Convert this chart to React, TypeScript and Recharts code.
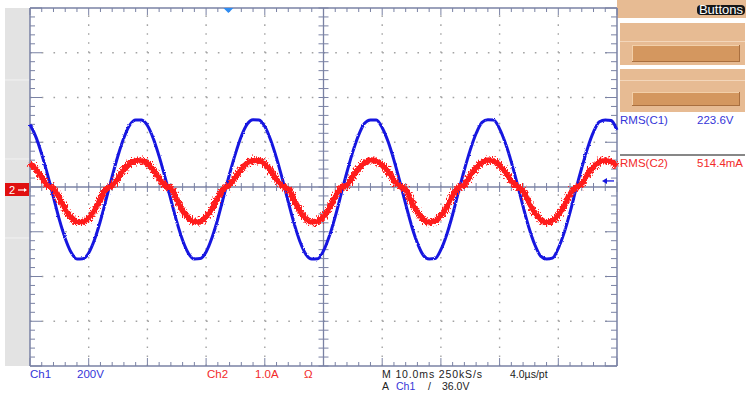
import React from "react";
import { LineChart, Line, XAxis, YAxis, ReferenceLine, ReferenceDot } from "recharts";

// Time base: 10 ms/div over 10 divisions, one sample per millisecond
const TIME_MS = [
  0, 1, 2, 3, 4, 5, 6, 7, 8, 9,
  10, 11, 12, 13, 14, 15, 16, 17, 18, 19,
  20, 21, 22, 23, 24, 25, 26, 27, 28, 29,
  30, 31, 32, 33, 34, 35, 36, 37, 38, 39,
  40, 41, 42, 43, 44, 45, 46, 47, 48, 49,
  50, 51, 52, 53, 54, 55, 56, 57, 58, 59,
  60, 61, 62, 63, 64, 65, 66, 67, 68, 69,
  70, 71, 72, 73, 74, 75, 76, 77, 78, 79,
  80, 81, 82, 83, 84, 85, 86, 87, 88, 89,
  90, 91, 92, 93, 94, 95, 96, 97, 98, 99,
  100,
];

// Ch1: mains voltage (V), 200 V/div
const CH1_VOLTS = [
  279, 224, 146, 54, -46, -146, -230, -292, -322, -321,
  -295, -235, -151, -52, 48, 141, 220, 277, 300, 299,
  275, 217, 137, 44, -56, -155, -238, -297, -322, -320,
  -290, -227, -142, -42, 58, 149, 227, 281, 301, 299,
  270, 210, 129, 35, -67, -164, -245, -301, -322, -321,
  -285, -219, -132, -32, 67, 158, 233, 285, 300, 300,
  265, 203, 120, 25, -77, -173, -251, -305, -322, -320,
  -280, -212, -123, -21, 77, 166, 239, 289, 301, 299,
  260, 195, 111, 15, -87, -182, -258, -309, -322, -318,
  -274, -204, -113, -11, 86, 175, 246, 292, 300, 297,
  255,
];

// Ch2: load current (A), 1.0 A/div
const CH2_AMPS = [
  0.53, 0.4, 0.21, 0.03, -0.03, -0.25, -0.5, -0.68, -0.78, -0.78,
  -0.69, -0.51, -0.27, -0.03, 0.03, 0.2, 0.39, 0.52, 0.59, 0.59,
  0.52, 0.38, 0.19, 0.03, -0.03, -0.28, -0.52, -0.69, -0.78, -0.77,
  -0.67, -0.49, -0.24, -0.03, 0.04, 0.22, 0.4, 0.53, 0.6, 0.59,
  0.51, 0.36, 0.17, 0.02, -0.04, -0.3, -0.54, -0.71, -0.79, -0.77,
  -0.66, -0.47, -0.21, -0.02, 0.04, 0.24, 0.42, 0.54, 0.6, 0.58,
  0.49, 0.35, 0.15, 0.02, -0.05, -0.33, -0.56, -0.72, -0.79, -0.76,
  -0.64, -0.45, -0.19, -0.01, 0.05, 0.26, 0.43, 0.55, 0.6, 0.58,
  0.48, 0.33, 0.13, 0.01, -0.08, -0.36, -0.58, -0.73, -0.79, -0.75,
  -0.63, -0.42, -0.16, -0.01, 0.07, 0.28, 0.45, 0.56, 0.6, 0.57,
  0.47,
];

// Trigger settings: Ch1 rising edge at 36.0 V
const TRIGGER_MS = 33.8;
const TRIGGER_LEVEL_V = 36;

// Readouts
const CH1_LABEL = ["Ch1", "200V"];
const CH2_LABEL = ["Ch2", "1.0A", "Ω"];
const TIMEBASE_LABEL = ["M 10.0ms 250kS/s", "4.0µs/pt"];
const TRIGGER_LABEL = ["A", "Ch1", "/", "36.0V"];
const MEASUREMENTS = [
  { name: "RMS(C1)", value: "223.6V" },
  { name: "RMS(C2)", value: "514.4mA" },
];

const data = TIME_MS.map((t, i) => ({ t, v: CH1_VOLTS[i], a: CH2_AMPS[i] }));

const W = 752;
const H = 394;
const PLOT = { left: 30, top: 8, right: 617, bottom: 366 };
const PX_PER_MS = (PLOT.right - PLOT.left) / 100;
const PX_PER_DIV = (PLOT.bottom - PLOT.top) / 8;
const msFromPx = (px: number) => px / PX_PER_MS;
const divFromPx = (px: number) => px / PX_PER_DIV;

const BLUE = "#1616e0";
const RED = "#ff1c1c";
const AXIS = "#7a82a4";
const DOTS = "#a3a3a3";
const TXT_BLUE = "#3535d8";
const TXT_RED = "#f22a2a";
const FONT = "'Liberation Sans', Arial, sans-serif";

const PANEL = "#e7bb93";
const PANEL_LIGHT = "#f3d6ba";
const BUTTON = "#d4975f";
const BUTTON_HI = "#f2cfa8";
const BUTTON_SH = "#a96f3f";

type Pt = { x: number; y: number };
type Seg = { key: string; seg: [Pt, Pt]; w: number };

// Graticule frame ticks and center-axis ticks, in data units (ms, div)
function buildTicks(): Seg[] {
  const out: Seg[] = [];
  for (let i = 0; i <= 50; i++) {
    const x = i * 2;
    const major = x % 10 === 0;
    const top = divFromPx(major ? 7 : 4);
    const bot = divFromPx(major ? 8 : 4);
    const mid = divFromPx(major ? 5 : 4);
    out.push({ key: `t${i}`, seg: [{ x, y: 4 }, { x, y: 4 - top }], w: 1 });
    out.push({ key: `b${i}`, seg: [{ x, y: -4 }, { x, y: -4 + bot }], w: 1 });
    out.push({ key: `c${i}`, seg: [{ x, y: -mid }, { x, y: mid }], w: 1 });
  }
  for (let j = 0; j <= 40; j++) {
    const y = (j - 20) / 5;
    const major = j % 5 === 0;
    const l = msFromPx(major ? 12 : 5);
    const r = msFromPx(major ? 12 : 6);
    const m = msFromPx(5);
    out.push({ key: `l${j}`, seg: [{ x: 0, y }, { x: l, y }], w: 1 });
    out.push({ key: `r${j}`, seg: [{ x: 100, y }, { x: 100 - r, y }], w: 1 });
    out.push({ key: `m${j}`, seg: [{ x: 50 - m, y }, { x: 50 + m, y }], w: 1 });
  }
  return out;
}

const TICKS = buildTicks();
const GRID_X = [10, 20, 30, 40, 60, 70, 80, 90];
const GRID_Y = [-3, -2, -1, 1, 2, 3];

const hDash = `1.6 ${(PX_PER_MS * 2 - 1.6).toFixed(2)}`;
const vDash = `1.6 ${(PX_PER_DIV / 5 - 1.6).toFixed(2)}`;

function Ch2GroundMarker(p: any) {
  const { cx, cy } = p;
  return (
    <g>
      <rect x={cx - 25} y={cy - 4} width={24} height={13} fill="#e01010" />
      <text x={cx - 18} y={cy + 7} fill="#fff" fontSize={11} fontFamily={FONT} textAnchor="middle">
        2
      </text>
      <line x1={cx - 12} y1={cy + 3} x2={cx - 5} y2={cy + 3} stroke="#fff" strokeWidth={1.2} />
      <path d={`M${cx - 6},${cy + 1} L${cx - 3},${cy + 3} L${cx - 6},${cy + 5} Z`} fill="#fff" />
    </g>
  );
}

function TriggerPosMarker(p: any) {
  const { cx, cy } = p;
  return <path d={`M${cx - 5},${cy} L${cx + 5},${cy} L${cx},${cy + 5} Z`} fill="#2f8cf2" />;
}

function TriggerLevelMarker(p: any) {
  const { cx, cy } = p;
  return (
    <g>
      <line x1={cx - 13} y1={cy + 2} x2={cx - 3} y2={cy + 2} stroke={BLUE} strokeWidth={1.3} />
      <path d={`M${cx - 15},${cy + 2} L${cx - 10},${cy - 1} L${cx - 10},${cy + 5} Z`} fill={BLUE} />
    </g>
  );
}

function Background() {
  const txt = { fontFamily: FONT, fontSize: 11.5 };
  const low = { fontFamily: FONT, fontSize: 10.5 };
  return (
    <svg width={W} height={H} style={{ position: "absolute", left: 0, top: 0 }}>
      <defs>
        <filter id="ch2-noise" x="-2%" y="-40%" width="104%" height="180%">
          <feTurbulence type="fractalNoise" baseFrequency="0.8 0.5" numOctaves={2} seed={4} result="n" />
          <feDisplacementMap in="SourceGraphic" in2="n" scale={10} xChannelSelector="R" yChannelSelector="G" />
        </filter>
        <filter id="ch1-noise" x="-2%" y="-20%" width="104%" height="140%">
          <feTurbulence type="fractalNoise" baseFrequency="0.9" numOctaves={1} seed={7} result="n" />
          <feDisplacementMap in="SourceGraphic" in2="n" scale={2.5} xChannelSelector="R" yChannelSelector="G" />
        </filter>
        <clipPath id="pill-clip">
          <rect x={697} y={5} width={48} height={10} rx={4} />
        </clipPath>
      </defs>
      <rect x={0} y={0} width={W} height={H} fill="#ffffff" />

      {/* channel marker strip */}
      <rect x={5} y={PLOT.top} width={PLOT.left - 5} height={PLOT.bottom - PLOT.top} fill="#e3e3e3" />
      {[80, 159, 238].map((y) => (
        <line key={y} x1={5} x2={PLOT.left} y1={y} y2={y} stroke="#f2f2f2" strokeWidth={1} />
      ))}

      {/* soft buttons */}
      <rect x={617} y={0} width={129} height={18} fill={PANEL} />
      <rect x={697} y={5} width={48} height={10} rx={4} fill="#161616" />
      <text x={721} y={13.5} fill="#fff" fontSize={13} fontFamily={FONT} textAnchor="middle" clipPath="url(#pill-clip)">
        Buttons
      </text>
      {[
        { y: 23, h: 42, line: 41.5, by: 45, bh: 17 },
        { y: 69, h: 43, line: 80.5, by: 92, bh: 14 },
      ].map((b) => (
        <g key={b.y}>
          <rect x={620} y={b.y} width={125} height={b.h} fill={PANEL} />
          <line x1={620} x2={745} y1={b.line} y2={b.line} stroke={PANEL_LIGHT} strokeWidth={1} />
          <rect x={632} y={b.by} width={108} height={b.bh} fill={BUTTON} />
          <line x1={632} x2={740} y1={b.by + 0.5} y2={b.by + 0.5} stroke={BUTTON_HI} strokeWidth={1} />
          <line x1={632.5} x2={632.5} y1={b.by} y2={b.by + b.bh} stroke={BUTTON_HI} strokeWidth={1} />
          <line x1={632} x2={740} y1={b.by + b.bh - 0.5} y2={b.by + b.bh - 0.5} stroke={BUTTON_SH} strokeWidth={1} />
          <line x1={739.5} x2={739.5} y1={b.by} y2={b.by + b.bh} stroke={BUTTON_SH} strokeWidth={1} />
        </g>
      ))}

      {/* measurements */}
      <text x={620} y={124} fill={TXT_BLUE} {...txt}>{MEASUREMENTS[0].name}</text>
      <text x={697} y={124} fill={TXT_BLUE} {...txt}>{MEASUREMENTS[0].value}</text>
      <line x1={620} x2={745} y1={155} y2={155} stroke="#111" strokeWidth={1.2} />
      <text x={620} y={166.5} fill={TXT_RED} {...txt}>{MEASUREMENTS[1].name}</text>
      <text x={697} y={166.5} fill={TXT_RED} {...txt}>{MEASUREMENTS[1].value}</text>

      {/* channel / timebase / trigger readouts */}
      <text x={30} y={378} fill={TXT_BLUE} {...txt}>{CH1_LABEL[0]}</text>
      <text x={77} y={378} fill={TXT_BLUE} {...txt}>{CH1_LABEL[1]}</text>
      <text x={207} y={378} fill={TXT_RED} {...txt}>{CH2_LABEL[0]}</text>
      <text x={255} y={378} fill={TXT_RED} {...txt}>{CH2_LABEL[1]}</text>
      <text x={304} y={378} fill={TXT_RED} {...txt}>{CH2_LABEL[2]}</text>
      <text x={382} y={377.5} fill="#222" {...low} textLength={100}>{TIMEBASE_LABEL[0]}</text>
      <text x={510} y={377.5} fill="#222" {...low}>{TIMEBASE_LABEL[1]}</text>
      <text x={382} y={389.5} fill="#222" {...low}>{TRIGGER_LABEL[0]}</text>
      <text x={396} y={389.5} fill={TXT_BLUE} {...low}>{TRIGGER_LABEL[1]}</text>
      <text x={428} y={389.5} fill="#222" {...low}>{TRIGGER_LABEL[2]}</text>
      <text x={442} y={389.5} fill="#222" {...low}>{TRIGGER_LABEL[3]}</text>
    </svg>
  );
}

export default function App() {
  return (
    <div style={{ position: "absolute", left: 0, top: 0, width: W, height: H, background: "#fff" }}>
      <style>{`
        .ch2-fuzz .recharts-line-curve { filter: url(#ch2-noise); }
        .ch1-trace .recharts-line-curve { filter: url(#ch1-noise); }
      `}</style>
      <Background />
      <div style={{ position: "absolute", left: 0, top: 0 }}>
        <LineChart
          width={W}
          height={H}
          data={data}
          margin={{ top: PLOT.top, left: PLOT.left, right: W - PLOT.right, bottom: H - PLOT.bottom }}
        >
          <XAxis dataKey="t" type="number" domain={[0, 100]} hide />
          <YAxis yAxisId="v" type="number" domain={[-800, 800]} hide />
          <YAxis yAxisId="a" type="number" domain={[-4, 4]} hide />

          {GRID_Y.map((y) => (
            <ReferenceLine key={`gy${y}`} yAxisId="a" y={y} stroke={DOTS} strokeWidth={1.4} strokeDasharray={hDash} />
          ))}
          {GRID_X.map((x) => (
            <ReferenceLine key={`gx${x}`} yAxisId="a" x={x} stroke={DOTS} strokeWidth={1.4} strokeDasharray={vDash} />
          ))}

          <ReferenceLine yAxisId="a" y={0} stroke={AXIS} strokeWidth={1.3} />
          <ReferenceLine yAxisId="a" x={50} stroke={AXIS} strokeWidth={1.3} />
          <ReferenceLine yAxisId="a" y={4} stroke={AXIS} strokeWidth={1.5} />
          <ReferenceLine yAxisId="a" y={-4} stroke={AXIS} strokeWidth={1.5} />
          <ReferenceLine yAxisId="a" x={0} stroke={AXIS} strokeWidth={1.5} />
          <ReferenceLine yAxisId="a" x={100} stroke={AXIS} strokeWidth={1.5} />
          {TICKS.map((t) => (
            <ReferenceLine key={t.key} yAxisId="a" segment={t.seg} stroke={AXIS} strokeWidth={t.w} ifOverflow="visible" />
          ))}

          <Line
            yAxisId="v"
            dataKey="v"
            type="monotone"
            stroke={BLUE}
            strokeWidth={3}
            dot={false}
            activeDot={false}
            isAnimationActive={false}
            className="ch1-trace"
          />
          {/* Ch2: solid core plus a noisy halo drawn from the same samples */}
          <Line
            yAxisId="a"
            dataKey="a"
            type="monotone"
            stroke={RED}
            strokeWidth={4.5}
            dot={false}
            activeDot={false}
            isAnimationActive={false}
            className="ch2-core"
          />
          <Line
            yAxisId="a"
            dataKey="a"
            type="monotone"
            stroke={RED}
            strokeWidth={6}
            dot={false}
            activeDot={false}
            isAnimationActive={false}
            className="ch2-fuzz"
          />

          <ReferenceDot yAxisId="a" x={0} y={0} ifOverflow="visible" shape={Ch2GroundMarker} />
          <ReferenceDot yAxisId="a" x={TRIGGER_MS} y={4} ifOverflow="visible" shape={TriggerPosMarker} />
          <ReferenceDot yAxisId="v" x={100} y={TRIGGER_LEVEL_V} ifOverflow="visible" shape={TriggerLevelMarker} />
        </LineChart>
      </div>
    </div>
  );
}
